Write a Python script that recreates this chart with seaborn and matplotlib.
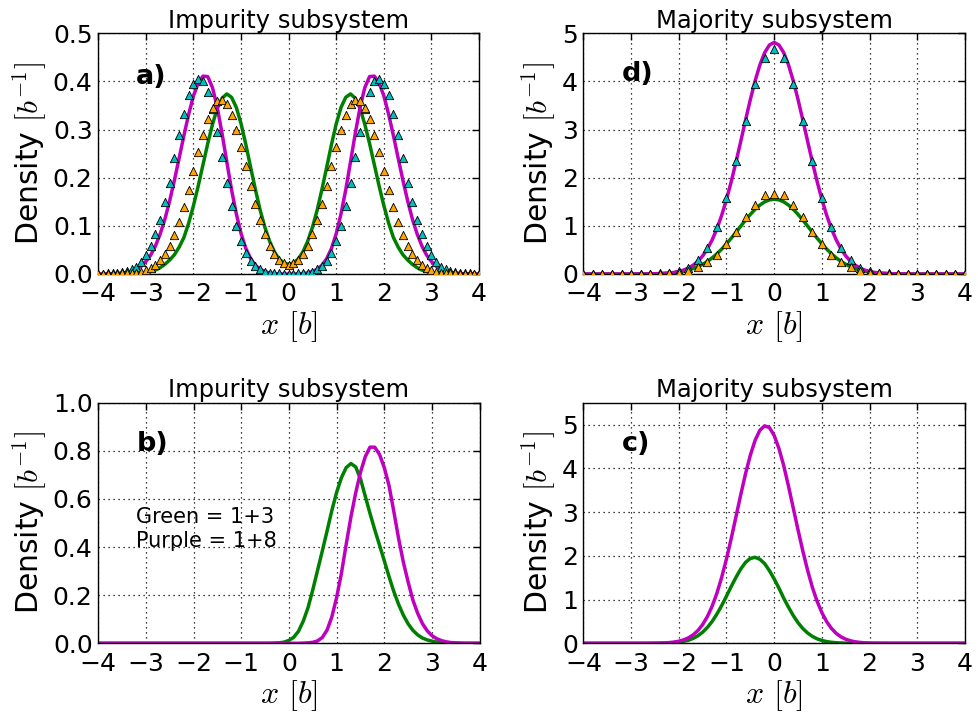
import numpy as np
import matplotlib
matplotlib.use("Agg")
import matplotlib.pyplot as plt
from matplotlib.ticker import FormatStrFormatter
import seaborn as sns

# sample positions (0.1 spacing for lines and panel a points, 0.2 for panel d points)
x_fine = np.round(np.linspace(-4, 4, 81), 1)
x_coarse = np.round(np.linspace(-4, 4, 41), 1)

# panel a) impurity, lines
green_a = [0, 0, 0, 0, 0, 0, 0, 0, 0.001, 0.002,
           0.003, 0.005, 0.008, 0.013, 0.020, 0.029, 0.040, 0.056, 0.076, 0.106,
           0.142, 0.183, 0.227, 0.271, 0.311, 0.344, 0.365, 0.374, 0.367, 0.346,
           0.312, 0.269, 0.222, 0.176, 0.133, 0.097, 0.068, 0.046, 0.031, 0.023,
           0.020,
           0.023, 0.031, 0.046, 0.068, 0.097, 0.133, 0.176, 0.222, 0.269, 0.312,
           0.346, 0.367, 0.374, 0.365, 0.344, 0.311, 0.271, 0.227, 0.183, 0.142,
           0.106, 0.076, 0.056, 0.040, 0.029, 0.020, 0.013, 0.008, 0.005, 0.003,
           0.002, 0.001, 0, 0, 0, 0, 0, 0, 0, 0]
purple_a = [0, 0, 0, 0, 0.001, 0.002, 0.003, 0.006, 0.010, 0.016,
            0.026, 0.039, 0.058, 0.083, 0.114, 0.152, 0.195, 0.241, 0.288, 0.332,
            0.370, 0.397, 0.411, 0.410, 0.387, 0.346, 0.292, 0.233, 0.175, 0.125,
            0.084, 0.053, 0.032, 0.018, 0.010, 0.005, 0.002, 0.001, 0, 0,
            0,
            0, 0, 0.001, 0.002, 0.005, 0.010, 0.018, 0.032, 0.053, 0.084,
            0.125, 0.175, 0.233, 0.292, 0.346, 0.387, 0.410, 0.411, 0.397, 0.370,
            0.332, 0.288, 0.241, 0.195, 0.152, 0.114, 0.083, 0.058, 0.039, 0.026,
            0.016, 0.010, 0.006, 0.003, 0.002, 0.001, 0, 0, 0, 0]
# panel a) impurity, triangles
cyan_a = [0, 0, 0.001, 0.001, 0.002, 0.004, 0.006, 0.010, 0.015, 0.025,
          0.040, 0.058, 0.083, 0.112, 0.149, 0.190, 0.240, 0.288, 0.333, 0.371,
          0.395, 0.406, 0.400, 0.378, 0.343, 0.294, 0.242, 0.190, 0.142, 0.100,
          0.069, 0.044, 0.027, 0.017, 0.010, 0.005, 0.002, 0.001, 0.001, 0,
          0,
          0, 0.001, 0.001, 0.002, 0.005, 0.010, 0.017, 0.027, 0.044, 0.069,
          0.100, 0.142, 0.190, 0.242, 0.294, 0.343, 0.378, 0.400, 0.406, 0.395,
          0.371, 0.333, 0.288, 0.240, 0.190, 0.149, 0.112, 0.083, 0.058, 0.040,
          0.025, 0.015, 0.010, 0.006, 0.004, 0.002, 0.001, 0.001, 0, 0]
orange_a = [0, 0, 0, 0, 0, 0.001, 0.001, 0.002, 0.003, 0.005,
            0.008, 0.013, 0.019, 0.028, 0.041, 0.058, 0.080, 0.107, 0.139, 0.175,
            0.213, 0.253, 0.289, 0.321, 0.345, 0.360, 0.362, 0.353, 0.331, 0.300,
            0.264, 0.224, 0.183, 0.146, 0.112, 0.083, 0.059, 0.042, 0.029, 0.022,
            0.019,
            0.022, 0.029, 0.042, 0.059, 0.083, 0.112, 0.146, 0.183, 0.224, 0.264,
            0.300, 0.331, 0.353, 0.362, 0.360, 0.345, 0.321, 0.289, 0.253, 0.213,
            0.175, 0.139, 0.107, 0.080, 0.058, 0.041, 0.028, 0.019, 0.013, 0.008,
            0.005, 0.003, 0.002, 0.001, 0.001, 0, 0, 0, 0, 0]

# panel d) majority, lines
green_d = [0, 0, 0, 0, 0, 0, 0, 0, 0, 0,
           0, 0.001, 0.001, 0.002, 0.003, 0.005, 0.008, 0.013, 0.019, 0.028,
           0.041, 0.058, 0.082, 0.112, 0.152, 0.201, 0.261, 0.334, 0.419, 0.517,
           0.626, 0.744, 0.868, 0.995, 1.120, 1.237, 1.343, 1.431, 1.498, 1.539,
           1.553,
           1.539, 1.498, 1.431, 1.343, 1.237, 1.120, 0.995, 0.868, 0.744, 0.626,
           0.517, 0.419, 0.334, 0.261, 0.201, 0.152, 0.112, 0.082, 0.058, 0.041,
           0.028, 0.019, 0.013, 0.008, 0.005, 0.003, 0.002, 0.001, 0.001, 0,
           0, 0, 0, 0, 0, 0, 0, 0, 0, 0]
purple_d = [0, 0, 0, 0, 0, 0, 0, 0, 0, 0,
            0, 0, 0.001, 0.001, 0.002, 0.004, 0.007, 0.012, 0.020, 0.032,
            0.052, 0.080, 0.122, 0.181, 0.264, 0.375, 0.521, 0.708, 0.940, 1.220,
            1.548, 1.920, 2.328, 2.760, 3.199, 3.623, 4.011, 4.343, 4.597, 4.756,
            4.810,
            4.756, 4.597, 4.343, 4.011, 3.623, 3.199, 2.760, 2.328, 1.920, 1.548,
            1.220, 0.940, 0.708, 0.521, 0.375, 0.264, 0.181, 0.122, 0.080, 0.052,
            0.032, 0.020, 0.012, 0.007, 0.004, 0.002, 0.001, 0.001, 0, 0,
            0, 0, 0, 0, 0, 0, 0, 0, 0, 0]
# panel d) majority, triangles
cyan_d = [0, 0, 0, 0, 0, 0.001, 0.002, 0.004, 0.010, 0.025,
          0.06, 0.13, 0.28, 0.54, 0.97, 1.57, 2.35, 3.18, 3.94, 4.48,
          4.68,
          4.48, 3.94, 3.18, 2.35, 1.57, 0.97, 0.54, 0.28, 0.13, 0.06,
          0.025, 0.010, 0.004, 0.002, 0.001, 0, 0, 0, 0, 0]
orange_d = [0, 0, 0, 0, 0, 0, 0.001, 0.002, 0.005, 0.012,
            0.03, 0.07, 0.14, 0.24, 0.40, 0.62, 0.88, 1.19, 1.43, 1.63,
            1.67,
            1.63, 1.43, 1.19, 0.88, 0.62, 0.40, 0.24, 0.14, 0.07, 0.03,
            0.012, 0.005, 0.002, 0.001, 0, 0, 0, 0, 0, 0]

# panel b) impurity
green_b = [0, 0, 0, 0, 0, 0, 0, 0, 0, 0,
           0, 0, 0, 0, 0, 0, 0, 0, 0, 0,
           0, 0, 0, 0, 0, 0, 0, 0, 0, 0,
           0, 0, 0, 0, 0, 0, 0, 0.001, 0.002, 0.005,
           0.012,
           0.025, 0.050, 0.092, 0.148, 0.222, 0.303, 0.384, 0.467, 0.552, 0.627,
           0.688, 0.730, 0.747, 0.733, 0.684, 0.612, 0.540, 0.472, 0.408, 0.343,
           0.277, 0.215, 0.162, 0.117, 0.081, 0.054, 0.035, 0.022, 0.014, 0.009,
           0.005, 0.003, 0.002, 0.001, 0, 0, 0, 0, 0, 0]
purple_b = [0, 0, 0, 0, 0, 0, 0, 0, 0, 0,
            0, 0, 0, 0, 0, 0, 0, 0, 0, 0,
            0, 0, 0, 0, 0, 0, 0, 0, 0, 0,
            0, 0, 0, 0, 0, 0, 0, 0, 0, 0,
            0,
            0, 0, 0.001, 0.002, 0.004, 0.010, 0.024, 0.055, 0.110, 0.190,
            0.290, 0.410, 0.525, 0.625, 0.710, 0.775, 0.815, 0.815, 0.785, 0.730,
            0.655, 0.548, 0.436, 0.337, 0.255, 0.180, 0.125, 0.082, 0.052, 0.032,
            0.019, 0.011, 0.006, 0.003, 0.002, 0.001, 0, 0, 0, 0]

# panel c) majority
green_c = [0, 0, 0, 0, 0, 0, 0, 0, 0, 0,
           0, 0, 0, 0, 0.001, 0.001, 0.002, 0.004, 0.008, 0.014,
           0.025, 0.043, 0.070, 0.112, 0.171, 0.254, 0.363, 0.501, 0.670, 0.864,
           1.078, 1.300, 1.510, 1.700, 1.850, 1.940, 1.965, 1.920, 1.820, 1.660,
           1.470,
           1.260, 1.030, 0.825, 0.634, 0.471, 0.338, 0.235, 0.158, 0.102, 0.064,
           0.039, 0.023, 0.013, 0.007, 0.004, 0.002, 0.001, 0, 0, 0,
           0, 0, 0, 0, 0, 0, 0, 0, 0, 0,
           0, 0, 0, 0, 0, 0, 0, 0, 0, 0]
purple_c = [0, 0, 0, 0, 0, 0, 0, 0, 0, 0,
            0, 0, 0, 0, 0.001, 0.003, 0.005, 0.009, 0.016, 0.028,
            0.047, 0.077, 0.123, 0.192, 0.290, 0.428, 0.612, 0.850, 1.149, 1.510,
            1.930, 2.400, 2.900, 3.400, 3.880, 4.300, 4.640, 4.870, 4.970, 4.930,
            4.750,
            4.450, 4.060, 3.590, 3.090, 2.590, 2.110, 1.670, 1.280, 0.960, 0.700,
            0.495, 0.340, 0.227, 0.147, 0.093, 0.057, 0.034, 0.020, 0.011, 0.006,
            0.003, 0.002, 0.001, 0, 0, 0, 0, 0, 0, 0,
            0, 0, 0, 0, 0, 0, 0, 0, 0, 0]

GREEN, PURPLE, CYAN, ORANGE = "#008000", "#bf00bf", "#00bfbf", "#ffa500"

sns.set_style("white")
plt.rcParams.update({
    "font.family": ["DejaVu Sans"],
    "mathtext.fontset": "cm",
    "axes.edgecolor": "black",
    "axes.linewidth": 1.0,
    "text.color": "black",
    "axes.labelcolor": "black",
    "xtick.color": "black",
    "ytick.color": "black",
})

fig = plt.figure(figsize=(9.79, 7.17), dpi=100)
ax_a = fig.add_axes([0.1004, 0.6179, 0.3889, 0.3357])
ax_d = fig.add_axes([0.5959, 0.6179, 0.3898, 0.3357])
ax_b = fig.add_axes([0.1004, 0.1028, 0.3895, 0.3356])
ax_c = fig.add_axes([0.5959, 0.1028, 0.3898, 0.3356])


def lines(ax, green, purple):
    sns.lineplot(x=x_fine, y=green, color=GREEN, linewidth=2.5, ax=ax)
    sns.lineplot(x=x_fine, y=purple, color=PURPLE, linewidth=2.5, ax=ax)


def points(ax, xs, vals, color):
    sns.scatterplot(x=xs, y=vals, marker="^", s=36, color=color,
                    edgecolor="black", linewidth=0.6, ax=ax, zorder=3)


def dress(ax, title, tag, tag_y, ymax, yticks, fmt):
    ax.set_xlim(-4, 4)
    ax.set_xticks(range(-4, 5))
    ax.set_ylim(0, ymax)
    ax.set_yticks(yticks)
    ax.yaxis.set_major_formatter(FormatStrFormatter(fmt))
    ax.grid(True, color="black", linestyle=(0, (1, 3)), linewidth=0.9)
    ax.tick_params(direction="in", top=True, right=True, labelsize=18,
                   length=5, width=1)
    ax.tick_params(axis="x", pad=6)
    ax.tick_params(axis="y", pad=4)
    ax.set_xlabel(r"$x$ $[b]$", fontsize=23, labelpad=2)
    ax.set_ylabel(r"Density $[b^{-1}]$", fontsize=21.5, labelpad=3)
    ax.set_title(title, fontsize=17.5, pad=4)
    ax.text(-3.2, tag_y, tag, fontsize=19.5, fontweight="bold")
    for s in ax.spines.values():
        s.set_visible(True)


lines(ax_a, green_a, purple_a)
points(ax_a, x_fine, cyan_a, CYAN)
points(ax_a, x_fine, orange_a, ORANGE)
dress(ax_a, "Impurity subsystem", "a)", 0.395, 0.5,
      [0, 0.1, 0.2, 0.3, 0.4, 0.5], "%.1f")

lines(ax_d, green_d, purple_d)
points(ax_d, x_coarse, cyan_d, CYAN)
points(ax_d, x_coarse, orange_d, ORANGE)
dress(ax_d, "Majority subsystem", "d)", 4.0, 5, [0, 1, 2, 3, 4, 5], "%d")

lines(ax_b, green_b, purple_b)
dress(ax_b, "Impurity subsystem", "b)", 0.8, 1.0,
      [0, 0.2, 0.4, 0.6, 0.8, 1.0], "%.1f")
ax_b.text(-3.2, 0.5, "Green = 1+3", fontsize=15)
ax_b.text(-3.2, 0.4, "Purple = 1+8", fontsize=15)

lines(ax_c, green_c, purple_c)
dress(ax_c, "Majority subsystem", "c)", 4.4, 5.5, [0, 1, 2, 3, 4, 5], "%d")

fig.savefig("out.png", dpi=100)
